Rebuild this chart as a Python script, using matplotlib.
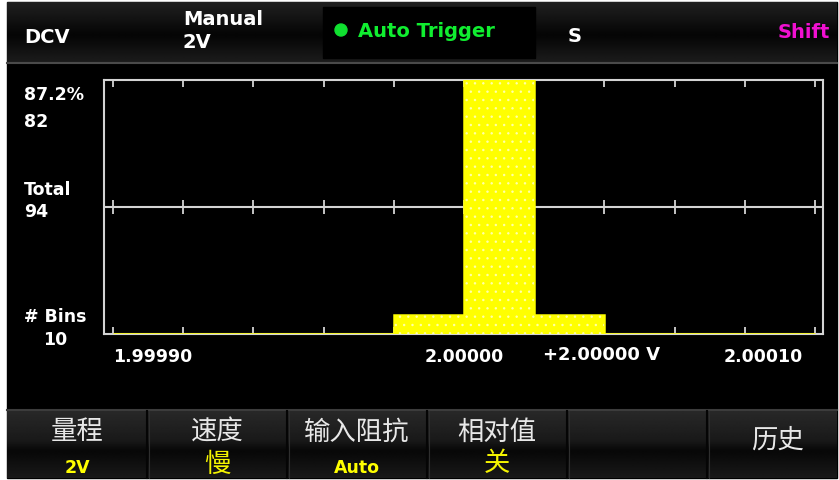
import numpy as np
import matplotlib
matplotlib.use("Agg")
import matplotlib.pyplot as plt
from matplotlib.patches import Rectangle, Circle

plt.rcParams["font.family"] = ["DejaVu Sans", "Noto Sans CJK SC"]
plt.rcParams["hatch.color"] = "white"
plt.rcParams["hatch.linewidth"] = 0.6

# 直方图数据
bin_start = 1.99990
bin_width = 0.00002
counts = [0, 0, 0, 0, 6, 82, 6, 0, 0, 0]
total = 94
peak = max(counts)
peak_pct = f"{peak / total * 100:.1f}%"
reading = "+2.00000 V"

# 底部软键
soft_keys = ["量程", "速度", "输入阻抗", "相对值", "", "历史"]
soft_vals = ["2V", "慢", "Auto", "关", "", ""]

W, H = 839, 481
fig = plt.figure(figsize=(W / 100, H / 100), dpi=100, facecolor="white")

# 背景层, 像素坐标
bg = fig.add_axes([0, 0, 1, 1])
bg.axis("off")
bg.add_patch(Rectangle((7, 3), 830, 476, color="black", zorder=0))


def vgrad(y0, y1, pos, vals):
    g = np.interp(np.linspace(0, 1, 80), pos, vals)
    img = np.repeat(g[:, None], 2, axis=1)
    bg.imshow(img, extent=(7, 837, y1, y0), cmap="gray", vmin=0, vmax=1,
              aspect="auto", interpolation="bilinear", zorder=1)


# 顶部状态栏
vgrad(3, 63, [0, 0.55, 1], [0.13, 0.02, 0.11])
bg.plot([7, 837], [63.5, 63.5], color="#4a4a4a", lw=1.5, zorder=2)
bg.add_patch(Rectangle((323, 8), 212, 51, color="black", zorder=2))
bg.add_patch(Circle((341, 31), 6, color="#10e030", zorder=3))

hdr = dict(color="white", fontsize=14, fontweight="bold", va="baseline", zorder=3)
bg.text(24, 43, "DCV", **hdr)
bg.text(183, 25, "Manual", **hdr)
bg.text(183, 48, "2V", **hdr)
bg.text(358, 37, "Auto Trigger", **{**hdr, "color": "#10ee30"})
bg.text(568, 42, "S", **hdr)
bg.text(830, 38, "Shift", ha="right", **{**hdr, "color": "#f010d0"})

# 底部软键栏
vgrad(411, 479, [0, 0.45, 0.6, 1], [0.16, 0.1, 0.03, 0.1])
bg.plot([7, 837], [411, 411], color="#3c3c3c", lw=1.5, zorder=2)
for xd in [147, 287, 427, 567, 707]:
    bg.plot([xd, xd], [412, 479], color="#050505", lw=1.5, zorder=2)
    bg.plot([xd + 1.5, xd + 1.5], [412, 479], color="#2e2e2e", lw=0.8, zorder=2)

centers = [77, 217, 357, 497, 637, 777]
for cx, key, val in zip(centers, soft_keys, soft_vals):
    if not key:
        continue
    ky = 432 if val else 440
    bg.text(cx, ky, key, color="#e8e8e8", fontsize=19, ha="center", va="center",
            family=["Noto Sans CJK SC"], zorder=3)
    if val and val.isascii():
        bg.text(cx, 473, val, color="#ffff00", fontsize=12.5, fontweight="bold",
                ha="center", va="baseline", zorder=3)
    elif val:
        bg.text(cx, 464, val, color="#f4f400", fontsize=19, ha="center", va="center",
                family=["Noto Sans CJK SC"], zorder=3)

# 左侧统计信息
lbl = dict(color="white", fontsize=12.5, fontweight="bold", va="baseline", zorder=3)
bg.text(24, 100, peak_pct, **lbl)
bg.text(24, 127, str(peak), **lbl)
bg.text(24, 195, "Total", **lbl)
bg.text(24, 217, str(total), **lbl)
bg.text(24, 322, "# Bins", **lbl)
bg.text(43, 345, str(len(counts)), **lbl)
bg.text(543, 360, reading, color="white", fontsize=13, fontweight="bold",
        va="baseline", zorder=3)

bg.set_xlim(0, W)
bg.set_ylim(H, 0)

# 直方图
L, R, T, B = 104, 823, 81, 335
ax = fig.add_axes([L / W, 1 - B / H, (R - L) / W, (B - T) / H])
ax.set_facecolor("none")
ax.set_axisbelow(True)
edges = bin_start + bin_width * np.arange(len(counts) + 1)
px = 70.2
ax.set_xlim(edges[0] - 9 / px * bin_width, edges[-1] + 8 / px * bin_width)
ax.set_ylim(0, peak)

gray = "#d4d4d4"
ax.bar(edges[:-1], counts, width=bin_width, align="edge", color="#ffff00",
       edgecolor="#ffff00", linewidth=1.8, zorder=3)
ax.bar(edges[:-1], counts, width=bin_width, align="edge", fill=False,
       edgecolor="white", hatch="..", linewidth=0, alpha=0.55, zorder=3.5)

ax.axhline(peak / 2, color=gray, lw=1.5, zorder=2)
ax.plot(edges, [peak / 2] * len(edges), "|", ms=10, mew=1.3, color=gray, zorder=2)

ax.set_xticks(edges)
ax.set_yticks([])
ax.tick_params(axis="x", direction="in", length=5, width=1.3, color=gray,
               top=True, bottom=True, labelbottom=False)
for s in ax.spines.values():
    s.set_color(gray)
    s.set_linewidth(1.5)

xt = ax.get_xaxis_transform()
off = -27 / (B - T)
tl = dict(color="white", fontsize=12.5, fontweight="bold", va="baseline",
          transform=xt)
ax.text(edges[0], off, f"{edges[0]:.5f}", ha="left", **tl)
ax.text(edges[5], off, f"{edges[5]:.5f}", ha="center", **tl)
ax.text(edges[-1] - 12 / px * bin_width, off, f"{edges[-1]:.5f}", ha="right", **tl)

fig.savefig("out.png", dpi=100, facecolor="white")
